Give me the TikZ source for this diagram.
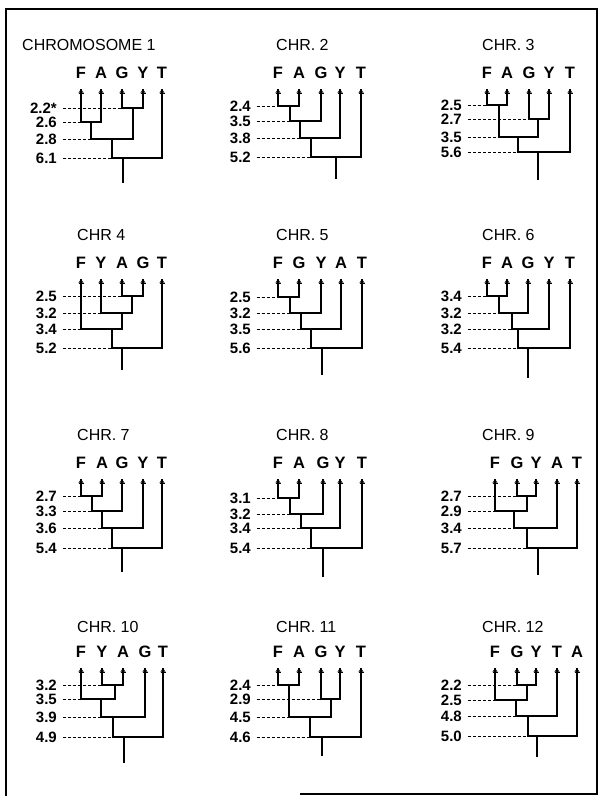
\documentclass[tikz,border=0pt]{standalone}
\usepackage{fontspec}
\setmainfont{Liberation Sans}
\usetikzlibrary{arrows.meta, calc}

\tikzset{
  chrtitle/.style={font=\fontsize{16}{16}\selectfont, inner sep=0pt, anchor=west},
  leaflab/.style={font=\fontsize{16.5}{17}\selectfont\bfseries, inner sep=0pt},
  lvllab/.style={font=\fontsize{15}{15}\selectfont\bfseries, inner sep=0pt, anchor=east},
  branch/.style={line width=2pt, line join=miter},
  guide/.style={line width=1pt, dash pattern=on 3pt off 2pt},
  rootstem/.style={line width=2pt},
  tipmark/.style={line width=2pt, -{Bar[width=5pt,line width=1.2pt]Stealth[length=4pt,width=5pt]}},
  frame/.style={line width=1.4pt},
}

% leaves of panel #1: letter row at y=#2, arrow tips at y=#3
\newcommand{\leafrow}[4]{%
  \foreach \n/\x in {#4}{
    \node[leaflab] (c#1\n) at (\x,#2) {\n};
    \coordinate (c#1t\n) at (\x,#3);
    \draw[tipmark] ([yshift=-5pt]c#1t\n) -- (c#1t\n);
  }}
% distance labels of panel #1, right edge at x=#2
\newcommand{\levels}[3]{%
  \foreach \y/\t [count=\i] in {#3}{
    \node[lvllab] (c#1l\i) at (#2,\y) {\t};
  }}
% join two branches at a level
\newcommand{\joinpair}[5][.5]{%
  \draw[guide] ([xshift=6pt]#4.east) -- (#2 |- #4);
  \draw[branch] (#2) -- (#2 |- #4) -- (#3 |- #4) -- (#3);
  \coordinate (#5) at ($(#2 |- #4)!#1!(#3 |- #4)$);
}
\newcommand{\rootline}[2]{%
  \path (c#1j4) ++(0,#2) coordinate (c#1r);
  \draw[rootstem] (c#1j4) -- (c#1r);
}

\begin{document}
\begin{tikzpicture}[x=1pt,y=-1pt]
\useasboundingbox (0,0) rectangle (601,796);
\draw[frame] (6,796) -- (6,9) -- (597,9) -- (597,794) -- (300,794);

% chr 1
\node[chrtitle] (t1) at (22,45) {CHROMOSOME 1};
\leafrow{1}{73}{89}{F/81,A/101,G/122,Y/143,T/162}
\levels{1}{57}{108/2.2*,122/2.6,139/2.8,158/6.1}
\joinpair{c1tG}{c1tY}{c1l1}{c1j1}
\joinpair{c1tF}{c1tA}{c1l2}{c1j2}
\joinpair{c1j2}{c1j1}{c1l3}{c1j3}
\joinpair[.22]{c1j3}{c1tT}{c1l4}{c1j4}
\rootline{1}{25}

% chr 2
\node[chrtitle] (t2) at (276,45) {CHR. 2};
\leafrow{2}{73}{89}{F/278,A/299,G/321,Y/340,T/361}
\levels{2}{251}{106/2.4,121/3.5,138/3.8,157/5.2}
\joinpair[.55]{c2tF}{c2tA}{c2l1}{c2j1}
\joinpair[.34]{c2j1}{c2tG}{c2l2}{c2j2}
\joinpair[.26]{c2j2}{c2tY}{c2l3}{c2j3}
\joinpair{c2j3}{c2tT}{c2l4}{c2j4}
\rootline{2}{22}

% chr 3
\node[chrtitle] (t3) at (482,45) {CHR. 3};
\leafrow{3}{73}{89}{F/487,A/507,G/529,Y/549,T/570}
\levels{3}{462}{105/2.5,119/2.7,137/3.5,152/5.6}
\joinpair[.6]{c3tF}{c3tA}{c3l1}{c3j1}
\joinpair[.43]{c3tG}{c3tY}{c3l2}{c3j2}
\joinpair{c3j1}{c3j2}{c3l3}{c3j3}
\joinpair[.39]{c3j3}{c3tT}{c3l4}{c3j4}
\rootline{3}{28}

% chr 4
\node[chrtitle] (t4) at (77,235) {CHR 4};
\leafrow{4}{263}{279}{F/81,Y/101,A/122,G/143,T/162}
\levels{4}{57}{296/2.5,313/3.2,329/3.4,348/5.2}
\joinpair[.46]{c4tA}{c4tG}{c4l1}{c4j1}
\joinpair[.7]{c4tY}{c4j1}{c4l2}{c4j2}
\joinpair[.74]{c4tF}{c4j2}{c4l3}{c4j3}
\joinpair[.21]{c4j3}{c4tT}{c4l4}{c4j4}
\rootline{4}{22}

% chr 5
\node[chrtitle] (t5) at (276,235) {CHR. 5};
\leafrow{5}{263}{279}{F/278,G/299,Y/321,A/341,T/362}
\levels{5}{251}{297/2.5,313/3.2,329/3.5,348/5.6}
\joinpair[.59]{c5tF}{c5tG}{c5l1}{c5j1}
\joinpair[.34]{c5j1}{c5tY}{c5l2}{c5j2}
\joinpair[.25]{c5j2}{c5tA}{c5l3}{c5j3}
\joinpair[.22]{c5j3}{c5tT}{c5l4}{c5j4}
\rootline{5}{27}

% chr 6
\node[chrtitle] (t6) at (482,235) {CHR. 6};
\leafrow{6}{263}{279}{F/487,A/507,G/528,Y/549,T/570}
\levels{6}{462}{296/3.4,313/3.2,329/3.2,348/5.4}
\joinpair[.58]{c6tF}{c6tA}{c6l1}{c6j1}
\joinpair[.45]{c6j1}{c6tG}{c6l2}{c6j2}
\joinpair[.16]{c6j2}{c6tY}{c6l3}{c6j3}
\joinpair[.19]{c6j3}{c6tT}{c6l4}{c6j4}
\rootline{6}{30}

% chr 7
\node[chrtitle] (t7) at (77,435) {CHR. 7};
\leafrow{7}{463}{479}{F/81,A/102,G/122,Y/143,T/162}
\levels{7}{57}{496/2.7,511/3.3,528/3.6,548/5.4}
\joinpair{c7tF}{c7tA}{c7l1}{c7j1}
\joinpair[.34]{c7j1}{c7tG}{c7l2}{c7j2}
\joinpair[.24]{c7j2}{c7tY}{c7l3}{c7j3}
\joinpair[.21]{c7j3}{c7tT}{c7l4}{c7j4}
\rootline{7}{24}

% chr 8
\node[chrtitle] (t8) at (276,435) {CHR. 8};
\leafrow{8}{463}{479}{F/278,A/299,G/323,Y/340,T/362}
\levels{8}{251}{498/3.1,514/3.2,528/3.4,548/5.4}
\joinpair[.56]{c8tF}{c8tA}{c8l1}{c8j1}
\joinpair[.33]{c8j1}{c8tG}{c8l2}{c8j2}
\joinpair[.25]{c8j2}{c8tY}{c8l3}{c8j3}
\joinpair[.25]{c8j3}{c8tT}{c8l4}{c8j4}
\rootline{8}{29}

% chr 9
\node[chrtitle] (t9) at (482,435) {CHR. 9};
\leafrow{9}{463}{479}{F/495,G/517,Y/536,A/557,T/577}
\levels{9}{462}{496/2.7,511/2.9,528/3.4,548/5.7}
\joinpair{c9tG}{c9tY}{c9l1}{c9j1}
\joinpair[.6]{c9tF}{c9j1}{c9l2}{c9j2}
\joinpair[.3]{c9j2}{c9tA}{c9l3}{c9j3}
\joinpair[.22]{c9j3}{c9tT}{c9l4}{c9j4}
\rootline{9}{27}

% chr 10
\node[chrtitle] (t10) at (77,627) {CHR. 10};
\leafrow{10}{652}{668}{F/81,Y/102,A/123,G/145,T/163}
\levels{10}{57}{685/3.2,699/3.5,717/3.9,737/4.9}
\joinpair[.6]{c10tY}{c10tA}{c10l1}{c10j1}
\joinpair[.6]{c10tF}{c10j1}{c10l2}{c10j2}
\joinpair[.27]{c10j2}{c10tG}{c10l3}{c10j3}
\joinpair[.22]{c10j3}{c10tT}{c10l4}{c10j4}
\rootline{10}{26}

% chr 11
\node[chrtitle] (t11) at (276,627) {CHR. 11};
\leafrow{11}{652}{668}{F/278,A/299,G/321,Y/340,T/361}
\levels{11}{251}{685/2.4,699/2.9,717/4.5,737/4.6}
\joinpair{c11tF}{c11tA}{c11l1}{c11j1}
\joinpair{c11tG}{c11tY}{c11l2}{c11j2}
\joinpair{c11j1}{c11j2}{c11l3}{c11j3}
\joinpair[.25]{c11j3}{c11tT}{c11l4}{c11j4}
\rootline{11}{19}

% chr 12
\node[chrtitle] (t12) at (482,627) {CHR. 12};
\leafrow{12}{652}{668}{F/495,G/517,Y/536,T/557,A/577}
\levels{12}{462}{685/2.2,700/2.5,716/4.8,736/5.0}
\joinpair[.52]{c12tG}{c12tY}{c12l1}{c12j1}
\joinpair[.66]{c12tF}{c12j1}{c12l2}{c12j2}
\joinpair[.28]{c12j2}{c12tT}{c12l3}{c12j3}
\joinpair[.2]{c12j3}{c12tA}{c12l4}{c12j4}
\rootline{12}{21}
\end{tikzpicture}
\end{document}
